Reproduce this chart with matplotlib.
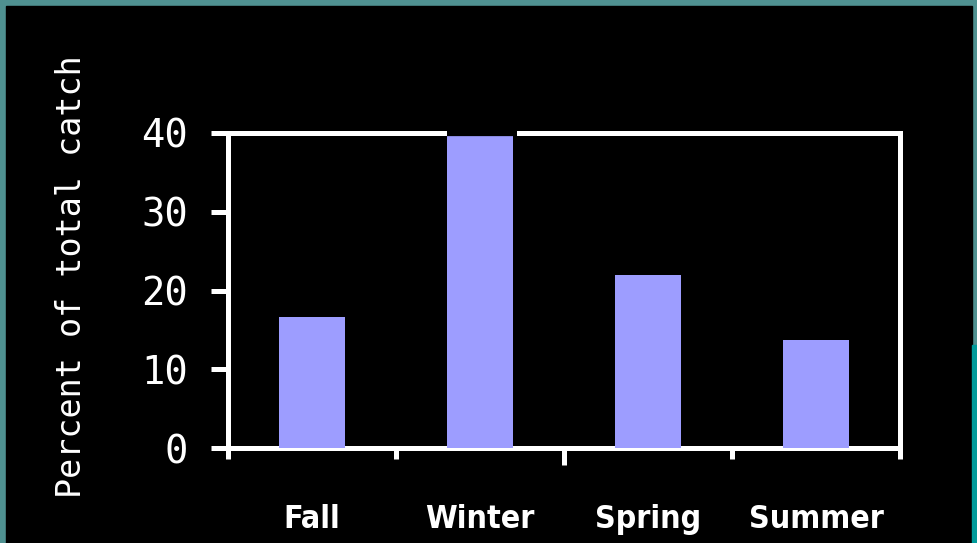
import numpy as np
import matplotlib.pyplot as plt
from matplotlib.patches import Rectangle

seasons = ['Fall', 'Winter', 'Spring', 'Summer']
catch_pct = [16.6, 39.6, 22.0, 13.7]
y_ticks = [0, 10, 20, 30, 40]

W, H = 977, 543
fig = plt.figure(figsize=(W / 100.0, H / 100.0), dpi=100)
fig.patch.set_facecolor('#4f9191')

# black slide area and the darker teal strip on the right edge
fig.patches.append(Rectangle((6.0 / W, 0), (972 - 6.0) / W, 1 - 6.0 / H,
                             transform=fig.transFigure, color='black', zorder=-10))
fig.patches.append(Rectangle((972.0 / W, 0), 5.0 / W, (H - 345.0) / H,
                             transform=fig.transFigure, color='#009a9a', zorder=-10))

ax = fig.add_axes([228.0 / W, (H - 448.0) / H, 672.0 / W, 315.0 / H])
ax.set_facecolor('black')

x = np.arange(len(seasons))
bars = ax.bar(x, catch_pct, width=0.39, color='#9d9dff', zorder=3)

ax.set_xlim(-0.5, len(seasons) - 0.5)
ax.set_ylim(0, 40)

for s in ax.spines.values():
    s.set_color('white')
    s.set_linewidth(3.6)

# the tallest bar breaks through the top frame line
for b in bars:
    if b.get_height() > 39:
        x0 = b.get_x()
        ax.plot([x0, x0 + b.get_width() * 1.07], [40, 40], color='black', lw=4.5,
                solid_capstyle='butt', clip_on=False, zorder=4)

mono = 'DejaVu Sans Mono'
ax.set_yticks(y_ticks)
ax.set_yticklabels([str(v) for v in y_ticks], family=mono)
ax.tick_params(axis='y', colors='white', direction='out', length=12, width=3.6,
               labelsize=28, pad=17)

# category boundary ticks below, labels at the bar centres
ax.set_xticks(np.arange(-0.5, len(seasons), 1.0))
ax.set_xticklabels([])
ax.tick_params(axis='x', which='major', colors='white', direction='out',
               length=8, width=3.6)
ax.xaxis.get_major_ticks()[2].tick1line.set_markersize(12)
ax.set_xticks(x, minor=True)
ax.set_xticklabels(seasons, minor=True, fontweight='bold', fontstretch='condensed')
ax.tick_params(axis='x', which='minor', colors='white', length=0, labelsize=23, pad=40)

ax.set_ylabel('Percent of total catch', color='white', fontsize=24, family=mono)
ax.yaxis.set_label_coords(-0.208, 0.543)

fig.savefig('out.png', dpi=100, facecolor=fig.get_facecolor())
